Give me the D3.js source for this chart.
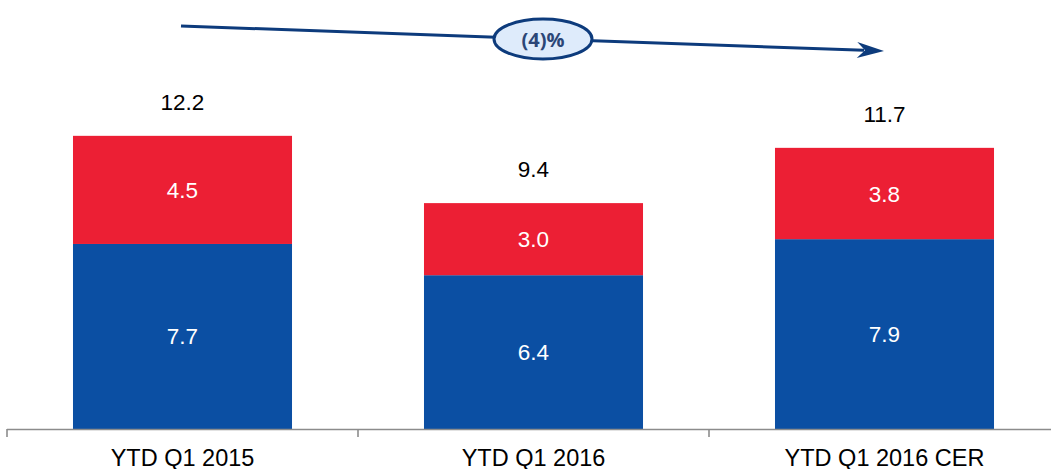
<!DOCTYPE html>
<html>
<head>
<meta charset="utf-8">
<script src="https://cdn.jsdelivr.net/npm/d3@7"></script>
<style>
  html, body { margin: 0; padding: 0; background: #fff; }
  svg { display: block; }
</style>
</head>
<body>
<svg id="chart" width="1051" height="469"></svg>
<script>
const categories = ["YTD Q1 2015", "YTD Q1 2016", "YTD Q1 2016 CER"];
const bottomValues = [7.7, 6.4, 7.9];
const topValues = [4.5, 3.0, 3.8];
const totalValues = [12.2, 9.4, 11.7];
const changeLabel = "(4)%";

const svg = d3.select("#chart");
const W = 1051, H = 469;
const baseY = 429;

const x = d3.scaleBand().domain(categories).range([7, 1060]).paddingInner(0.376).paddingOuter(0.188);
const y = d3.scaleLinear().domain([0, 14]).range([baseY, baseY - 14 * 24.03]);

const BLUE = "#0b4fa3", RED = "#ec1f34";
const font = "'Liberation Sans', Arial, Helvetica, sans-serif";

const data = categories.map((c, i) => ({ c, b: bottomValues[i], t: topValues[i], tot: totalValues[i] }));

// bars
const g = svg.append("g");
g.selectAll("rect.b").data(data).join("rect")
  .attr("x", d => x(d.c)).attr("width", x.bandwidth())
  .attr("y", d => y(d.b)).attr("height", d => y(0) - y(d.b))
  .attr("fill", BLUE);
g.selectAll("rect.t").data(data).join("rect")
  .attr("x", d => x(d.c)).attr("width", x.bandwidth())
  .attr("y", d => y(d.b + d.t)).attr("height", d => y(d.b) - y(d.b + d.t))
  .attr("fill", RED);

// segment labels
g.selectAll("text.bl").data(data).join("text")
  .attr("x", d => x(d.c) + x.bandwidth() / 2)
  .attr("y", d => (y(0) + y(d.b)) / 2 + 8)
  .attr("text-anchor", "middle").attr("fill", "#fff")
  .style("font-family", font).style("font-size", "22.5px")
  .text(d => d.b.toFixed(1));
g.selectAll("text.tl").data(data).join("text")
  .attr("x", d => x(d.c) + x.bandwidth() / 2)
  .attr("y", d => (y(d.b) + y(d.b + d.t)) / 2 + 8)
  .attr("text-anchor", "middle").attr("fill", "#fff")
  .style("font-family", font).style("font-size", "22.5px")
  .text(d => d.t.toFixed(1));
g.selectAll("text.tot").data(data).join("text")
  .attr("x", d => x(d.c) + x.bandwidth() / 2)
  .attr("y", d => y(d.b + d.t) - 26)
  .attr("text-anchor", "middle").attr("fill", "#000")
  .style("font-family", font).style("font-size", "22.5px")
  .text(d => d.tot.toFixed(1));

// axis
const axis = d3.axisBottom(x).tickSize(0).tickPadding(0);
const ax = svg.append("g").attr("transform", `translate(0,${baseY})`).call(axis);
ax.select(".domain").remove();
ax.selectAll("text").attr("y", 36.5).attr("dy", null)
  .style("font-family", font).style("font-size", "23.5px").attr("fill", "#000");
svg.append("line").attr("x1", 7).attr("x2", W).attr("y1", baseY + 0.5).attr("y2", baseY + 0.5)
  .attr("stroke", "#8c8c8c").attr("stroke-width", 1.6);
const bounds = [0, 1, 2].map(i => x.range()[0] + i * x.step());
svg.selectAll("line.tick2").data(bounds).join("line")
  .attr("x1", d => d).attr("x2", d => d).attr("y1", baseY).attr("y2", baseY + 8)
  .attr("stroke", "#8c8c8c").attr("stroke-width", 1.6);

// trend arrow
const DARK = "#0d3b7c";
const x0 = 181, y0 = 26, x1 = 884, y1 = 51;
const ang = Math.atan2(y1 - y0, x1 - x0);
svg.append("line").attr("x1", x0).attr("y1", y0)
  .attr("x2", x1 - 20 * Math.cos(ang)).attr("y2", y1 - 20 * Math.sin(ang))
  .attr("stroke", DARK).attr("stroke-width", 3);
const head = svg.append("g").attr("transform", `translate(${x1},${y1}) rotate(${ang * 180 / Math.PI})`);
head.append("path").attr("d", "M0,0 L-27,-8 L-19,0 L-27,8 Z").attr("fill", DARK);

svg.append("ellipse").attr("cx", 543).attr("cy", 39).attr("rx", 49).attr("ry", 20)
  .attr("fill", "#deebfb").attr("stroke", DARK).attr("stroke-width", 3);
svg.append("text").attr("x", 543).attr("y", 46.5).attr("text-anchor", "middle")
  .style("font-family", "'Open Sans', 'Noto Sans', sans-serif").style("font-weight", "700").style("font-size", "20px")
  .attr("fill", "#2b4677").text(changeLabel);
</script>
</body>
</html>
